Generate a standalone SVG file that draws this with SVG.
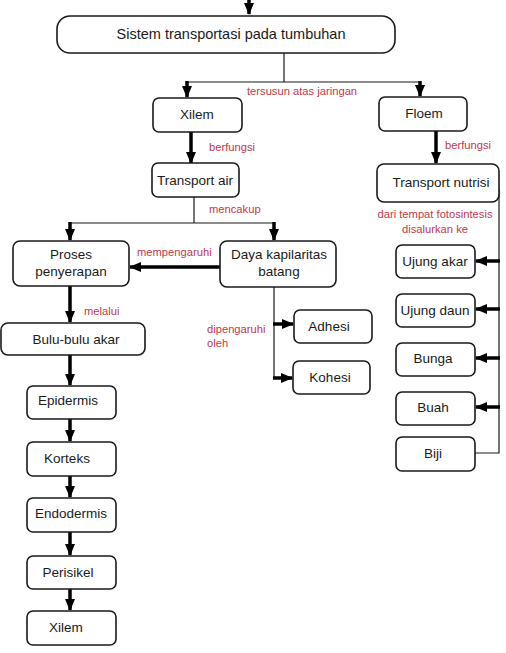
<svg xmlns="http://www.w3.org/2000/svg" width="506" height="653" viewBox="0 0 506 653">
<style>
.box{fill:#fff;stroke:#1a1a1a;stroke-width:1.6}
.t{font-family:"Liberation Sans",Arial,sans-serif;font-size:13.5px;fill:#1a1a1a;text-anchor:middle}
.lbl{font-family:"Liberation Sans",Arial,sans-serif;font-size:11.2px;fill:#c0394a}
.thin{fill:none;stroke:#1a1a1a;stroke-width:1.2}
.thick{fill:none;stroke:#000;stroke-width:3.5}
</style>
<defs>
<marker id="ah" markerUnits="userSpaceOnUse" markerWidth="12" markerHeight="10" refX="11" refY="5" orient="auto">
<path d="M0,0 L12,5 L0,10 Z" fill="#000"/>
</marker>
</defs>
<rect width="506" height="653" fill="#fff"/>
<g id="connectors">
<path class="thick" d="M249,0 V14" marker-end="url(#ah)"/>
<path class="thin" d="M284,53 V82 M187,82 H420"/>
<path class="thick" d="M187,81 V97" marker-end="url(#ah)"/>
<path class="thick" d="M420,81 V96" marker-end="url(#ah)"/>
<path class="thick" d="M191,132 V163" marker-end="url(#ah)"/>
<path class="thick" d="M436,131 V163" marker-end="url(#ah)"/>
<path class="thin" d="M194,197 V223 M70,223 H274"/>
<path class="thick" d="M70,222 V240" marker-end="url(#ah)"/>
<path class="thick" d="M274,222 V240" marker-end="url(#ah)"/>
<path class="thick" d="M220,267 H130" marker-end="url(#ah)"/>
<path class="thick" d="M70,286 V322" marker-end="url(#ah)"/>
<path class="thick" d="M70,355 V385" marker-end="url(#ah)"/>
<path class="thick" d="M70,419 V441" marker-end="url(#ah)"/>
<path class="thick" d="M70,476 V497" marker-end="url(#ah)"/>
<path class="thick" d="M70,532 V555" marker-end="url(#ah)"/>
<path class="thick" d="M70,589 V610" marker-end="url(#ah)"/>
<path class="thin" d="M274,287 V378"/>
<path class="thick" d="M273,324 H293" marker-end="url(#ah)"/>
<path class="thick" d="M273,378 H292" marker-end="url(#ah)"/>
<path class="thin" d="M499,190 V453 H475"/>
<path class="thick" d="M500,261 H476" marker-end="url(#ah)"/>
<path class="thick" d="M500,309 H476" marker-end="url(#ah)"/>
<path class="thick" d="M500,358 H476" marker-end="url(#ah)"/>
<path class="thick" d="M500,407 H476" marker-end="url(#ah)"/>
</g>
<g id="labels">
<text class="lbl" x="247" y="95">tersusun atas jaringan</text>
<text class="lbl" x="209" y="151">berfungsi</text>
<text class="lbl" x="445" y="149">berfungsi</text>
<text class="lbl" x="209" y="213">mencakup</text>
<text class="lbl" x="137" y="256">mempengaruhi</text>
<text class="lbl" x="84" y="315">melalui</text>
<text class="lbl" x="207" y="333">dipengaruhi</text>
<text class="lbl" x="207" y="347">oleh</text>
<text class="lbl" x="435" y="218" text-anchor="middle">dari tempat fotosintesis</text>
<text class="lbl" x="435" y="233" text-anchor="middle">disalurkan ke</text>
</g>
<g id="n-main"><rect class="box" x="57" y="16" width="338" height="37" rx="13"/><text class="t" x="231" y="39" style="font-size:14.5px">Sistem transportasi pada tumbuhan</text></g>
<g id="n-xilem"><rect class="box" x="153" y="98" width="89" height="34" rx="6"/><text class="t" x="197" y="119">Xilem</text></g>
<g id="n-floem"><rect class="box" x="379" y="97" width="88" height="34" rx="6"/><text class="t" x="424" y="118">Floem</text></g>
<g id="n-tair"><rect class="box" x="152" y="163" width="87" height="34" rx="6"/><text class="t" x="195" y="185">Transport air</text></g>
<g id="n-tnutrisi"><rect class="box" x="377" y="164" width="122" height="38" rx="7"/><text class="t" x="441" y="187">Transport nutrisi</text></g>
<g id="n-proses"><rect class="box" x="13" y="241" width="116" height="45" rx="7"/><text class="t" x="71" y="259">Proses</text><text class="t" x="71" y="276">penyerapan</text></g>
<g id="n-daya"><rect class="box" x="220" y="241" width="116" height="46" rx="7"/><text class="t" x="279" y="259">Daya kapilaritas</text><text class="t" x="279" y="276">batang</text></g>
<g id="n-bulu"><rect class="box" x="1" y="323" width="144" height="32" rx="7"/><text class="t" x="76" y="344">Bulu-bulu akar</text></g>
<g id="n-epidermis"><rect class="box" x="27" y="386" width="89" height="33" rx="6"/><text class="t" x="68" y="405">Epidermis</text></g>
<g id="n-korteks"><rect class="box" x="27" y="442" width="89" height="34" rx="6"/><text class="t" x="67" y="463">Korteks</text></g>
<g id="n-endodermis"><rect class="box" x="27" y="498" width="89" height="34" rx="6"/><text class="t" x="71" y="518">Endodermis</text></g>
<g id="n-perisikel"><rect class="box" x="27" y="556" width="89" height="33" rx="6"/><text class="t" x="68" y="577">Perisikel</text></g>
<g id="n-xilem2"><rect class="box" x="27" y="611" width="89" height="34" rx="6"/><text class="t" x="66" y="632">Xilem</text></g>
<g id="n-adhesi"><rect class="box" x="294" y="310" width="78" height="33" rx="6"/><text class="t" x="329" y="331">Adhesi</text></g>
<g id="n-kohesi"><rect class="box" x="293" y="361" width="77" height="33" rx="6"/><text class="t" x="330" y="382">Kohesi</text></g>
<g id="n-ujungakar"><rect class="box" x="396" y="245" width="79" height="33" rx="6"/><text class="t" x="435" y="266">Ujung akar</text></g>
<g id="n-ujungdaun"><rect class="box" x="396" y="294" width="79" height="33" rx="6"/><text class="t" x="435" y="315">Ujung daun</text></g>
<g id="n-bunga"><rect class="box" x="396" y="343" width="79" height="33" rx="6"/><text class="t" x="433" y="363">Bunga</text></g>
<g id="n-buah"><rect class="box" x="396" y="392" width="79" height="33" rx="6"/><text class="t" x="433" y="412">Buah</text></g>
<g id="n-biji"><rect class="box" x="396" y="437" width="79" height="34" rx="6"/><text class="t" x="433" y="458">Biji</text></g>
</svg>
